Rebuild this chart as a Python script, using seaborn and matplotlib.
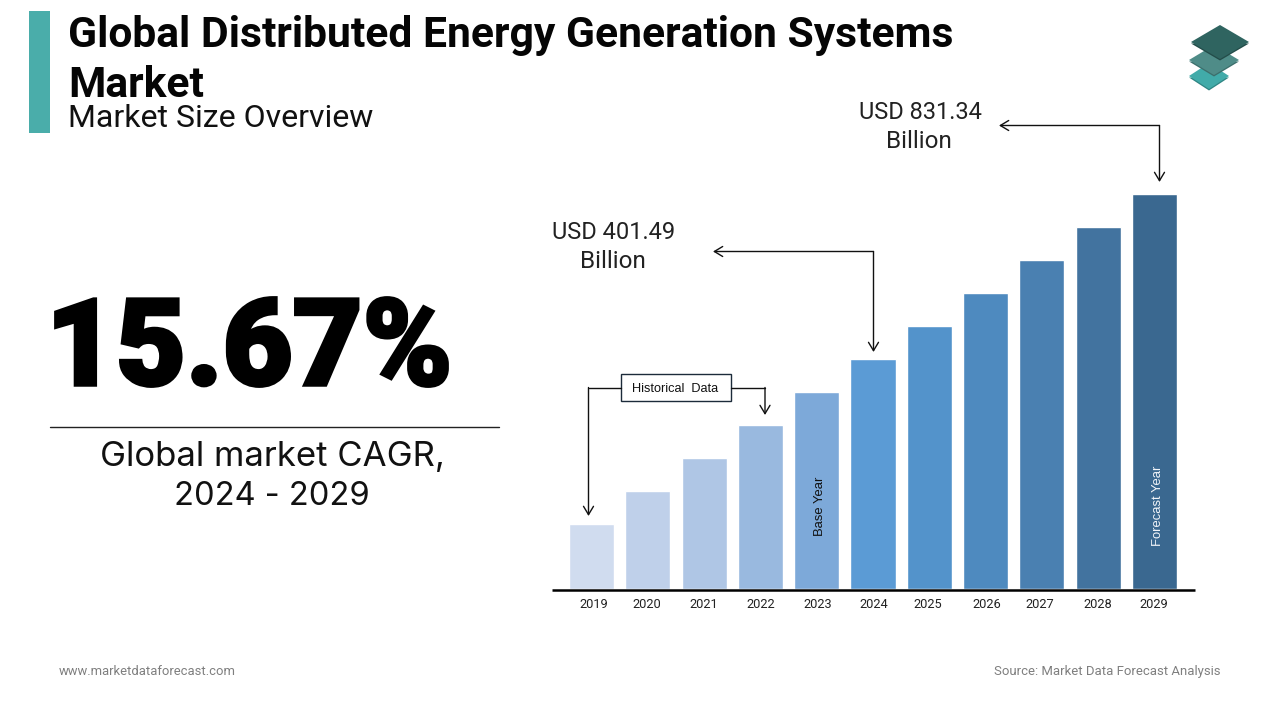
import matplotlib
matplotlib.use("Agg")
import matplotlib.pyplot as plt
import matplotlib.patheffects as pe
import seaborn as sns
import pandas as pd
from matplotlib.patches import Polygon, Rectangle

years = ["2019", "2020", "2021", "2022", "2023", "2024", "2025", "2026", "2027", "2028", "2029"]
# Bar heights as drawn (the picture's bars grow linearly; they carry no printed scale)
bar_heights = [65, 98, 131, 164, 197, 230, 263, 296, 329, 362, 395]
bar_colors = ["#D0DCEF", "#BFD0EA", "#AFC6E5", "#99B9DF", "#7DA9D9", "#5B9BD5",
              "#5393CB", "#4E8ABF", "#4A80B1", "#42739F", "#3A6890"]
label_shift = [0.04, -0.01, 0.0, 0.0, 0.01, 0.01, -0.03, 0.03, -0.03, -0.01, -0.01]

sns.set_theme(style="white")
plt.rcParams["font.family"] = ["Roboto", "DejaVu Sans"]

W, H = 1280, 720
fig = plt.figure(figsize=(12.8, 7.2), dpi=100, facecolor="white")

# Overlay in pixel coordinates for the layout furniture
ov = fig.add_axes([0, 0, 1, 1], zorder=3)
ov.set_xlim(0, W); ov.set_ylim(H, 0); ov.axis("off"); ov.patch.set_alpha(0)

# Bar chart
x0, x1, base, top = 551.5, 1194.5, 589, 189
ax = fig.add_axes([x0 / W, 1 - base / H, (x1 - x0) / W, (base - top) / H], zorder=2)
df = pd.DataFrame({"year": years, "height": bar_heights})
sns.barplot(data=df, x="year", y="height", hue="year", palette=bar_colors, legend=False,
            width=0.8, saturation=1, ax=ax)
ax.set_xlim(-0.71, 10.71)
ax.set_ylim(0, base - top)
ax.set_xlabel(""); ax.set_ylabel("")
ax.set_yticks([])
ax.set_xticks([i + s for i, s in enumerate(label_shift)], years)
ax.tick_params(axis="x", length=0, pad=5.5, labelsize=9.2, labelcolor="#222222")
for s in ["top", "left", "right"]:
    ax.spines[s].set_visible(False)
ax.spines["bottom"].set_position(("outward", 1))
ax.spines["bottom"].set_linewidth(1.8)
ax.spines["bottom"].set_color("black")
ax.spines["bottom"].set_capstyle("butt")
ax.patch.set_alpha(0)

ax.text(4.06, 53, "Base Year", rotation=90, ha="center", va="bottom", fontsize=9.4,
        family="Liberation Sans", color="#111111")
ax.text(10.06, 43, "Forecast Year", rotation=90, ha="center", va="bottom", fontsize=9.4,
        family="Liberation Sans", color="#F2F5F9")

# Header
ov.add_patch(Rectangle((29, 11), 21, 122, color="#4AADAA", lw=0))
ov.text(68, 47, "Global Distributed Energy Generation Systems", fontsize=30.7, fontweight="bold",
        color="#050505", va="baseline")
ov.text(68, 97, "Market", fontsize=30.7, fontweight="bold", color="#050505", va="baseline")
ov.text(68.5, 127, "Market Size Overview", fontsize=23, color="#111111", va="baseline")

# Left KPI
kpi = ov.text(46, 385, "15.67%", fontsize=87, fontweight="black", family=["Roboto", "DejaVu Sans"],
              color="black", va="baseline")
kpi.set_path_effects([pe.withStroke(linewidth=2.5, foreground="black", joinstyle="miter")])
ov.plot([49.5, 498.5], [427, 427], color="#222222", lw=1)
ov.text(272, 466, "Global market CAGR,", fontsize=25, family="Inter", ha="center", color="#111111", va="baseline")
ov.text(272, 505, "2024 - 2029", fontsize=23.5, family="Inter", ha="center", color="#111111", va="baseline")

# Footer
ov.text(59, 675, "www.marketdataforecast.com", fontsize=9.4, color="#7f7f7f", va="baseline")
ov.text(1221, 675, "Source: Market Data Forecast Analysis", fontsize=9.45, color="#7f7f7f", ha="right", va="baseline")

# Callouts
ov.text(920, 119, "USD 831.34", fontsize=17, ha="center", color="#222222", va="baseline")
ov.text(919, 148, "Billion", fontsize=17.5, ha="center", color="#222222", va="baseline")
ov.text(614, 239, "USD 401.49", fontsize=17, ha="center", color="#222222", va="baseline")
ov.text(613, 268, "Billion", fontsize=17.5, ha="center", color="#222222", va="baseline")

def arrow(pts):
    xs, ys = zip(*pts[:-1])
    ov.plot(xs, ys, color="#111111", lw=1, solid_joinstyle="miter")
    ov.annotate("", xy=pts[-1], xytext=pts[-2],
                arrowprops=dict(arrowstyle="->,head_length=0.5,head_width=0.3", color="#111111", lw=1,
                                shrinkA=0, shrinkB=0))

arrow([(1159.5, 125.5), (999, 125.5)])
arrow([(1159.5, 125.5), (1159.5, 182)])
arrow([(873.5, 251.5), (713, 251.5)])
arrow([(873.5, 251.5), (873.5, 352)])
arrow([(621, 387.5), (588.5, 387.5), (588.5, 516)])
arrow([(731, 387.5), (765, 387.5), (765, 415)])
ov.add_patch(Rectangle((621, 373.5), 109.5, 27.5, fc="white", ec="#1c2b3a", lw=1))
ov.text(675.5, 389.5, "Historical  Data", fontsize=9.2, ha="center", va="center",
        family="Liberation Sans", color="#111111")

# Logo
def rhomb(cx, cy, w, h, color, side):
    ov.add_patch(Polygon([(cx - w, cy + 1.5), (cx, cy + h + 1.5), (cx + w, cy + 1.5)], color=side, lw=0))
    ov.add_patch(Polygon([(cx - w, cy), (cx, cy - h), (cx + w, cy), (cx, cy + h)], color=color, lw=0))

rhomb(1209, 76, 20, 13, "#41ABA9", "#2f8583")
rhomb(1214, 60, 25, 15, "#4F8C88", "#3c6f6c")
rhomb(1220, 42, 29, 17, "#2F6460", "#234c49")

fig.savefig("out.png", dpi=100, facecolor="white")
